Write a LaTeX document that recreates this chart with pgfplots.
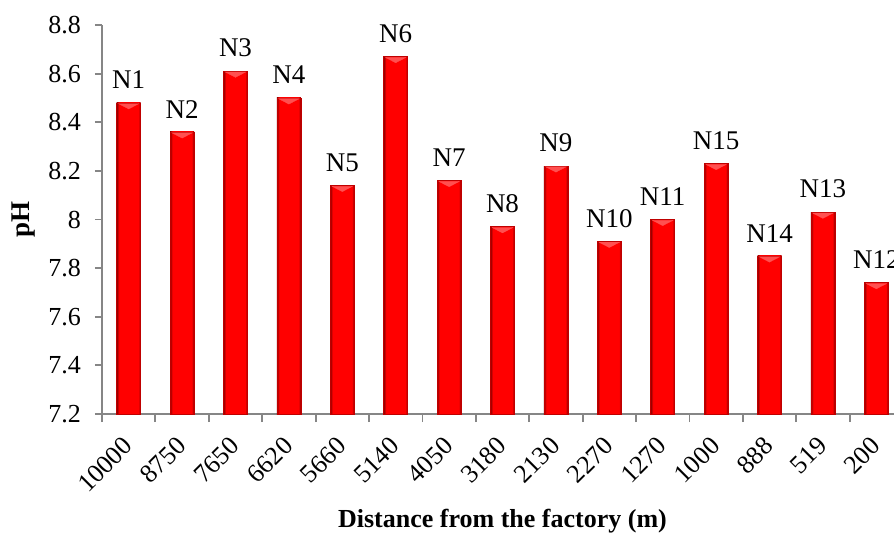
\documentclass[border=0pt]{standalone}
\usepackage{fontspec}
\setmainfont{Liberation Serif}
\usepackage{pgfplots}
\usepackage{pgfplotstable}
\pgfplotsset{compat=1.18}

% cylinder-like horizontal shading for each bar
\pgfdeclarehorizontalshading{redbar}{100bp}{%
  color(0bp)=(red!55!black); color(25bp)=(red!55!black);
  color(30bp)=(red); color(70bp)=(red);
  color(75bp)=(red!55!black); color(100bp)=(red!55!black)}

\definecolor{axisgray}{RGB}{134,134,134}
\definecolor{bevel}{RGB}{255,80,80}

\pgfplotstableread{
idx dist  ph   site
0   10000 8.48 N1
1   8750  8.36 N2
2   7650  8.61 N3
3   6620  8.50 N4
4   5660  8.14 N5
5   5140  8.67 N6
6   4050  8.16 N7
7   3180  7.97 N8
8   2130  8.22 N9
9   2270  7.91 N10
10  1270  8.00 N11
11  1000  8.23 N15
12  888   7.85 N14
13  519   8.03 N13
14  200   7.74 N12
}\phdata

\begin{document}
\begin{tikzpicture}
\begin{axis}[
  at={(0,0)}, anchor=south west,
  scale only axis,
  width=400.5pt, height=194.5pt,
  xmin=-0.5, xmax=14.5,
  ymin=7.2, ymax=8.8,
  ytick={7.2,7.4,7.6,7.8,8,8.2,8.4,8.6,8.8},
  yticklabels={7.2,7.4,7.6,7.8,8,8.2,8.4,8.6,8.8},
  xtick={0,...,14},
  xticklabels from table={\phdata}{dist},
  minor xtick={-0.5,0.5,...,14.5},
  axis lines*=left,
  axis line style={axisgray, line width=0.9pt, -},
  tick align=outside,
  major tick length=3.5pt,
  minor tick length=4pt,
  ytick style={axisgray, line width=0.9pt},
  major x tick style={draw=none},
  minor x tick style={axisgray, line width=0.9pt},
  tick label style={font=\fontsize{13}{15}\selectfont},
  yticklabel style={xshift=-3.5pt},
  xticklabel style={xshift=2.2pt, yshift=-7.8pt, rotate=45, anchor=east},
  /pgf/number format/assume math mode=true,
  ylabel={\textbf{pH}},
  xlabel={\textbf{Distance from the factory (m)}},
  every axis y label/.style={at={([xshift=-39pt]axis description cs:0,0.5)},
    rotate=90, anchor=center, font=\fontsize{13.5}{15}\selectfont},
  every axis x label/.style={at={([yshift=-53.5pt]axis description cs:0.5,0)},
    anchor=center, font=\fontsize{13}{15}\selectfont},
  ybar, bar width=12pt,
  nodes near coords,
  point meta=explicit symbolic,
  nodes near coords style={font=\fontsize{13.5}{15}\selectfont,
    text=black, anchor=south, yshift=3.5pt},
  clip=false,
]
% one plot per bar so that every bar gets its own shading
\pgfplotsinvokeforeach{0,...,14}{
  \addplot[ybar, bar shift=0pt, shading=redbar, draw=red!75!black,
    line width=0.3pt, restrict x to domain=#1:#1]
    table[x=idx, y=ph, meta=site] {\phdata};
}
% bevelled highlight at the top of each bar
\addplot[only marks, forget plot, color=bevel, nodes near coords={},
  yshift=-1.3pt, mark=triangle*, mark size=6pt,
  mark options={rotate=180, yscale=0.3, fill=bevel, draw=bevel,
    line width=0.1pt}]
  table[x=idx, y=ph] {\phdata};
\end{axis}
\pgfresetboundingbox
\path[use as bounding box] (-51pt,-61pt) rectangle (396pt,207pt);
\end{tikzpicture}
\end{document}
